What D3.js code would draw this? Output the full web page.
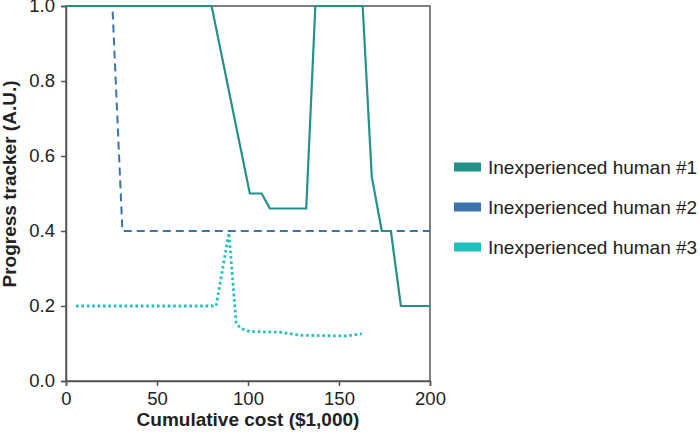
<!DOCTYPE html>
<html><head><meta charset="utf-8">
<script src="https://cdn.jsdelivr.net/npm/d3@7"></script>
<style>body{margin:0;background:#fff;} svg{display:block;font-family:"Liberation Sans",Arial,sans-serif;}</style>
</head><body>
<svg id="c" width="700" height="435"></svg>
<script>
const seriesNames = ["Inexperienced human #1","Inexperienced human #2","Inexperienced human #3"];
const seriesColors = ["#22918a","#3b74ad","#20c0bd"];
const h1x = [0, 80, 101, 107.5, 112, 132, 137, 163, 168, 173.5, 178.5, 184, 200];
const h1y = [1.0, 1.0, 0.5, 0.5, 0.46, 0.46, 1.0, 1.0, 0.545, 0.4, 0.4, 0.2, 0.2];
const h2x = [0, 25.5, 31, 200];
const h2y = [1.0, 1.0, 0.4, 0.4];
const h3x = [5.5, 82.5, 89.5, 93.5, 96, 101, 118, 128.5, 154, 162.5];
const h3y = [0.2, 0.2, 0.395, 0.155, 0.14, 0.132, 0.13, 0.122, 0.12, 0.126];
const xTicks = [0, 50, 100, 150, 200];
const yTicks = [0.0, 0.2, 0.4, 0.6, 0.8, 1.0];

const svg = d3.select("#c");
const x = d3.scaleLinear().domain([0,200]).range([66,430]);
const y = d3.scaleLinear().domain([0,1]).range([381,6]);
const axisColor = "#555";

// frame
svg.append("rect").attr("x",66).attr("y",6).attr("width",364).attr("height",375)
  .attr("fill","none").attr("stroke",axisColor).attr("stroke-width",1.5);

const xAxis = svg.append("g").attr("transform","translate(0,381)")
  .call(d3.axisBottom(x).tickValues(xTicks).tickSize(5).tickPadding(6).tickFormat(d3.format("d")));
const yAxis = svg.append("g").attr("transform","translate(66,0)")
  .call(d3.axisLeft(y).tickValues(yTicks).tickSize(5).tickPadding(6).tickFormat(d3.format(".1f")));
[xAxis,yAxis].forEach(a=>{
  a.select(".domain").attr("stroke",axisColor).attr("stroke-width",1.5);
  a.selectAll(".tick line").attr("stroke",axisColor).attr("stroke-width",1.5);
  a.selectAll(".tick text").attr("fill","#222").style("font-size","18.5px").style("font-family","Liberation Sans, Arial, sans-serif");
});

const line = d3.line().x(d=>x(d[0])).y(d=>y(d[1]));
const data = [
  d3.zip(h1x,h1y),
  d3.zip(h2x,h2y),
  d3.zip(h3x,h3y)
];
const dashes = [null, "8,5", "2.6,2.8"];
const widths = [2.2, 2, 2.8];
[1,2,0].forEach(i=>{
  svg.append("path").datum(data[i]).attr("d",line)
    .attr("fill","none").attr("stroke",seriesColors[i]).attr("stroke-width",widths[i])
    .attr("stroke-dasharray",dashes[i]).attr("stroke-linejoin","miter");
});

// axis titles
svg.append("text").attr("x",248).attr("y",426).attr("text-anchor","middle")
  .attr("font-weight","bold").attr("font-size","19px").attr("fill","#222").text("Cumulative cost ($1,000)");
svg.append("text").attr("transform","translate(15.5,184) rotate(-90)").attr("text-anchor","middle")
  .attr("font-weight","bold").attr("font-size","19px").attr("fill","#222").text("Progress tracker (A.U.)");

// legend
const legY = [167, 207, 247];
seriesNames.forEach((n,i)=>{
  svg.append("rect").attr("x",454).attr("y",legY[i]-4.5).attr("width",27).attr("height",9).attr("fill",seriesColors[i]);
  svg.append("text").attr("x",488).attr("y",legY[i]).attr("dy","0.35em").attr("font-size","19px").attr("fill","#222").text(n);
});
</script>
</body></html>
